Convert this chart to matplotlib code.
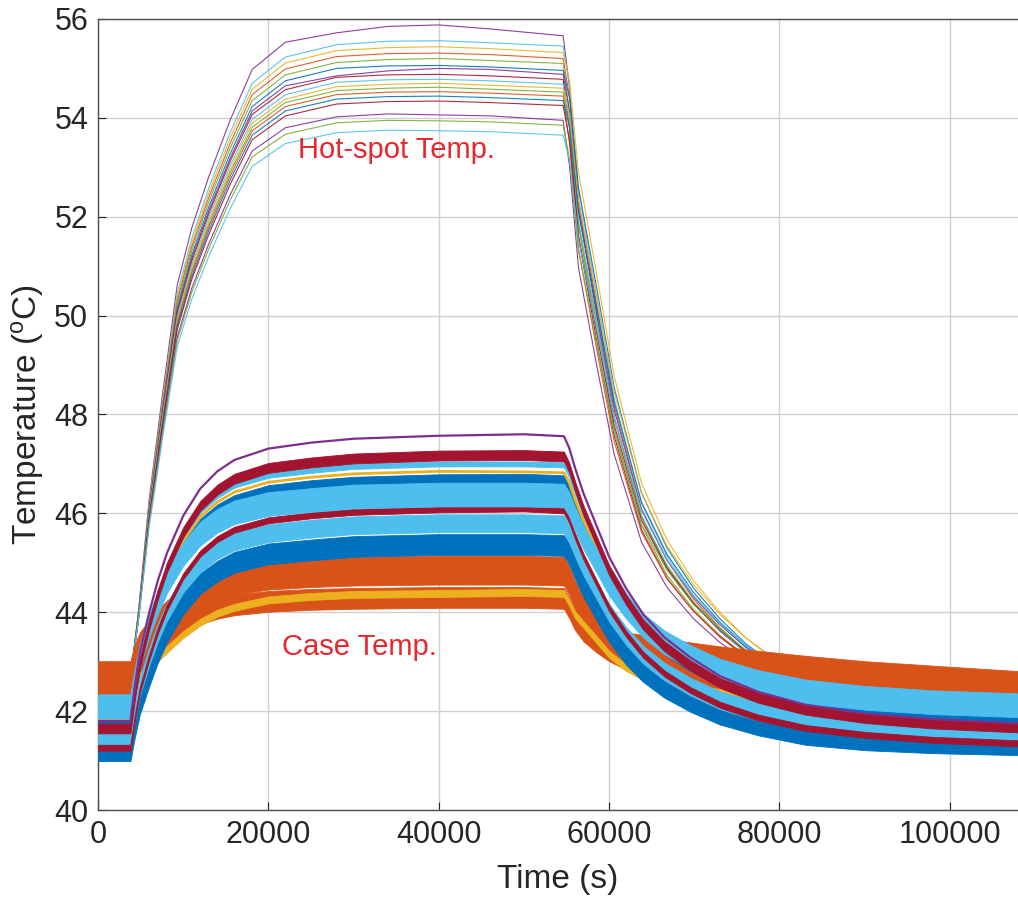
import matplotlib
matplotlib.use("Agg")
import numpy as np
import matplotlib.pyplot as plt

# ---- time bases (s) ----
t_case = [0, 3800, 4300, 4900, 6000, 7000, 8100, 10000, 12000, 14000, 16000, 20000,
          25000, 30000, 40000, 50000, 54700, 55300, 56000, 57000, 58500, 60000, 62000,
          64000, 66500, 69500, 73000, 77500, 83000, 90000, 98000, 108000]
t_hot = [0, 3800, 4100, 4800, 6000, 6800, 7600, 9300, 11000, 13000, 15500, 18100, 22000,
         28000, 34000, 40000, 46000, 54600, 55350, 56400, 58500, 60600, 63800, 66800,
         69900, 73000, 76000, 80000, 86000, 108000]

# ---- case temperatures (band centre, degC) ----
case_orange_a = [42.72, 42.72, 43.05, 43.30, 43.55, 43.76, 43.95, 44.20, 44.40, 44.55, 44.65, 44.75,
                 44.80, 44.83, 44.85, 44.85, 44.83, 44.65, 44.35, 44.05, 43.70, 43.40, 43.30,
                 43.25, 43.18, 43.10, 43.02, 42.93, 42.83, 42.72, 42.63, 42.52]
case_orange_b = [42.49, 42.49, 42.75, 42.95, 43.18, 43.38, 43.55, 43.78, 43.97, 44.08, 44.15, 44.22,
                 44.26, 44.28, 44.30, 44.30, 44.28, 44.10, 43.85, 43.62, 43.40, 43.22, 43.05,
                 42.92, 42.75, 42.58, 42.42, 42.30, 42.20, 42.15, 42.12, 42.10]
case_yellow_1 = [42.15, 42.15, 42.45, 42.70, 42.92, 43.07, 43.25, 43.55, 43.80, 43.98, 44.10, 44.25,
                 44.32, 44.36, 44.38, 44.40, 44.38, 44.20, 43.95, 43.75, 43.45, 43.15, 42.88,
                 42.70, 42.55, 42.45, 42.38, 42.32, 42.27, 42.24, 42.22, 42.20]
case_blue_1 = [41.20, 41.20, 41.66, 42.14, 42.71, 43.18, 43.61, 44.17, 44.58, 44.83, 45.01, 45.18,
               45.26, 45.33, 45.37, 45.37, 45.35, 45.18, 44.89, 44.52, 44.06, 43.61, 43.15,
               42.80, 42.48, 42.20, 41.94, 41.72, 41.53, 41.42, 41.36, 41.32]
case_lightblue_1 = [41.44, 41.44, 41.96, 42.49, 43.10, 43.58, 44.01, 44.58, 44.99, 45.26, 45.43, 45.60,
                    45.69, 45.76, 45.80, 45.80, 45.78, 45.61, 45.31, 44.93, 44.46, 43.99, 43.52,
                    43.14, 42.80, 42.50, 42.22, 41.99, 41.80, 41.67, 41.58, 41.52]
case_darkred_1 = [41.26, 41.26, 41.84, 42.42, 43.09, 43.62, 44.10, 44.73, 45.19, 45.48, 45.67, 45.86,
                  45.96, 46.03, 46.08, 46.10, 46.06, 45.87, 45.54, 45.12, 44.60, 44.08, 43.56,
                  43.14, 42.76, 42.43, 42.13, 41.87, 41.66, 41.52, 41.42, 41.35]
case_blue_2 = [41.78, 41.78, 42.37, 42.95, 43.64, 44.18, 44.67, 45.30, 45.77, 46.06, 46.25, 46.45,
               46.55, 46.62, 46.67, 46.68, 46.65, 46.46, 46.12, 45.68, 45.15, 44.62, 44.09,
               43.66, 43.27, 42.93, 42.62, 42.35, 42.13, 41.99, 41.89, 41.82]
case_lightblue_2 = [42.10, 42.10, 42.61, 43.13, 43.73, 44.20, 44.63, 45.18, 45.59, 45.85, 46.02, 46.19,
                    46.27, 46.34, 46.38, 46.38, 46.36, 46.19, 45.89, 45.51, 45.05, 44.58, 44.11,
                    43.73, 43.39, 43.10, 42.82, 42.59, 42.40, 42.27, 42.18, 42.12]
case_yellow_2 = [41.85, 41.85, 42.45, 43.05, 43.75, 44.30, 44.80, 45.45, 45.93, 46.23, 46.43, 46.63,
                 46.73, 46.80, 46.85, 46.84, 46.82, 46.63, 46.28, 45.85, 45.31, 44.77, 44.24,
                 43.80, 43.41, 43.07, 42.75, 42.49, 42.27, 42.12, 42.02, 41.95]
case_lightblue_3 = [41.90, 41.90, 42.51, 43.12, 43.84, 44.40, 44.91, 45.57, 46.06, 46.36, 46.57, 46.77,
                    46.87, 46.95, 47.00, 47.00, 46.98, 46.78, 46.43, 45.98, 45.44, 44.89, 44.34,
                    43.89, 43.49, 43.15, 42.82, 42.55, 42.32, 42.17, 42.08, 42.00]
case_darkred_2 = [41.65, 41.65, 42.31, 42.97, 43.75, 44.35, 44.91, 45.62, 46.15, 46.48, 46.70, 46.92,
                  47.03, 47.11, 47.17, 47.18, 47.15, 46.93, 46.55, 46.05, 45.45, 44.85, 44.25,
                  43.75, 43.31, 42.93, 42.57, 42.27, 42.03, 41.86, 41.75, 41.67]
case_purple = [41.80, 41.80, 42.49, 43.18, 43.99, 44.63, 45.20, 45.95, 46.50, 46.85, 47.08, 47.31,
               47.43, 47.51, 47.57, 47.60, 47.56, 47.33, 46.92, 46.40, 45.76, 45.12, 44.48,
               43.96, 43.49, 43.09, 42.71, 42.39, 42.13, 41.95, 41.84, 41.75]

# half width of the noisy band around each case trace (degC)
spread_orange_a = 0.29
spread_orange_b = 0.21
spread_yellow_1 = 0.07
spread_blue_1 = 0.21
spread_lightblue_1 = 0.18
spread_darkred_1 = 0.06
spread_blue_2 = 0.12
spread_lightblue_2 = 0.24
spread_lightblue_3 = 0.05
spread_darkred_2 = 0.10

# ---- hot-spot temperatures (degC) ----
hs_purple_1 = [42.85, 42.85, 43.07, 44.10, 46.28, 47.36, 48.45, 50.62, 51.77, 52.81, 53.95, 54.98, 55.53,
               55.72, 55.85, 55.88, 55.80, 55.66, 54.62, 52.26, 50.04, 47.95, 45.93, 44.89, 44.17,
               43.62, 43.19, 42.78, 42.63, 42.60]
hs_lightblue_1 = [42.85, 42.85, 43.07, 44.07, 46.20, 47.26, 48.32, 50.45, 51.56, 52.58, 53.70, 54.70, 55.23,
                  55.48, 55.55, 55.56, 55.52, 55.45, 54.66, 52.55, 50.43, 48.32, 46.20, 45.13, 44.34,
                  43.76, 43.29, 42.81, 42.60, 42.55]
hs_yellow_1 = [42.85, 42.85, 43.06, 44.06, 46.17, 47.21, 48.27, 50.37, 51.47, 52.48, 53.59, 54.58, 55.11,
               55.36, 55.42, 55.44, 55.40, 55.32, 54.75, 52.90, 50.87, 48.77, 46.61, 45.46, 44.64,
               44.00, 43.49, 42.96, 42.68, 42.60]
hs_orange_1 = [42.85, 42.85, 43.06, 44.05, 46.14, 47.17, 48.22, 50.30, 51.39, 52.39, 53.48, 54.47, 54.99,
               55.24, 55.30, 55.31, 55.28, 55.20, 54.43, 52.34, 50.26, 48.18, 46.09, 45.04, 44.27,
               43.69, 43.22, 42.75, 42.55, 42.50]
hs_green_1 = [42.85, 42.85, 43.06, 44.03, 46.11, 47.13, 48.16, 50.22, 51.31, 52.30, 53.38, 54.35, 54.87,
              55.12, 55.18, 55.20, 55.16, 55.10, 54.10, 51.84, 49.70, 47.70, 45.75, 44.75, 44.06,
              43.53, 43.11, 42.73, 42.58, 42.55]
hs_blue_1 = [42.85, 42.85, 43.06, 44.02, 46.07, 47.08, 48.11, 50.15, 51.22, 52.20, 53.27, 54.23, 54.75,
             55.00, 55.05, 55.06, 55.03, 54.96, 54.40, 52.59, 50.60, 48.54, 46.42, 45.30, 44.49,
             43.87, 43.37, 42.85, 42.57, 42.50]
hs_purple_2 = [42.85, 42.85, 43.06, 44.01, 46.04, 47.05, 48.07, 50.09, 51.15, 52.12, 53.18, 54.14, 54.65,
               54.85, 54.95, 55.00, 54.98, 54.88, 54.13, 52.12, 50.10, 48.09, 46.08, 45.06, 44.31,
               43.75, 43.30, 42.85, 42.65, 42.60]
hs_darkred_1 = [42.85, 42.85, 43.05, 44.00, 46.02, 47.02, 48.03, 50.04, 51.10, 52.06, 53.12, 54.07, 54.57,
                54.82, 54.87, 54.88, 54.85, 54.78, 53.80, 51.60, 49.52, 47.56, 45.67, 44.69, 44.02,
                43.50, 43.10, 42.72, 42.57, 42.55]
hs_lightblue_2 = [42.85, 42.85, 43.05, 43.99, 46.00, 46.99, 47.99, 49.98, 51.03, 51.98, 53.03, 53.97, 54.47,
                  54.72, 54.77, 54.78, 54.75, 54.68, 53.94, 51.94, 49.94, 47.94, 45.95, 44.94, 44.19,
                  43.64, 43.19, 42.74, 42.55, 42.50]
hs_yellow_2 = [42.85, 42.85, 43.05, 43.99, 45.97, 46.96, 47.95, 49.92, 50.97, 51.91, 52.95, 53.89, 54.38,
               54.63, 54.68, 54.70, 54.66, 54.60, 54.06, 52.33, 50.42, 48.45, 46.41, 45.34, 44.56,
               43.96, 43.49, 42.98, 42.72, 42.65]
hs_green_2 = [42.85, 42.85, 43.05, 43.98, 45.95, 46.93, 47.91, 49.88, 50.91, 51.85, 52.89, 53.81, 54.31,
              54.55, 54.60, 54.62, 54.58, 54.52, 53.79, 51.83, 49.86, 47.90, 45.94, 44.94, 44.21,
              43.68, 43.23, 42.79, 42.60, 42.55]
hs_orange_2 = [42.85, 42.85, 43.05, 43.97, 45.93, 46.90, 47.88, 49.83, 50.86, 51.79, 52.82, 53.74, 54.23,
               54.47, 54.52, 54.53, 54.50, 54.44, 53.49, 51.36, 49.35, 47.45, 45.62, 44.67, 44.02,
               43.52, 43.13, 42.77, 42.62, 42.60]
hs_blue_2 = [42.85, 42.85, 43.05, 43.96, 45.91, 46.87, 47.84, 49.78, 50.79, 51.72, 52.74, 53.65, 54.14,
             54.38, 54.43, 54.44, 54.41, 54.35, 53.82, 52.10, 50.20, 48.25, 46.23, 45.17, 44.40,
             43.80, 43.33, 42.83, 42.57, 42.50]
hs_darkred_2 = [42.85, 42.85, 43.05, 43.95, 45.88, 46.83, 47.80, 49.72, 50.73, 51.64, 52.65, 53.56, 54.04,
                54.28, 54.33, 54.34, 54.31, 54.25, 53.54, 51.62, 49.70, 47.78, 45.86, 44.89, 44.18,
                43.65, 43.22, 42.78, 42.60, 42.55]
hs_purple_3 = [42.85, 42.85, 43.04, 43.93, 45.82, 46.75, 47.69, 49.57, 50.55, 51.45, 52.44, 53.33, 53.80,
               54.02, 54.08, 54.06, 54.04, 53.95, 53.03, 50.97, 49.03, 47.19, 45.42, 44.50, 43.87,
               43.39, 43.02, 42.66, 42.52, 42.50]
hs_green_3 = [42.85, 42.85, 43.04, 43.92, 45.78, 46.70, 47.63, 49.49, 50.47, 51.35, 52.33, 53.21, 53.67,
              53.90, 53.95, 53.94, 53.92, 53.85, 53.16, 51.32, 49.47, 47.63, 45.78, 44.85, 44.16,
              43.66, 43.24, 42.83, 42.65, 42.60]
hs_lightblue_3 = [42.85, 42.85, 43.04, 43.90, 45.73, 46.63, 47.55, 49.37, 50.33, 51.20, 52.16, 53.02, 53.48,
                  53.70, 53.75, 53.74, 53.72, 53.65, 53.15, 51.54, 49.77, 47.93, 46.05, 45.05, 44.33,
                  43.77, 43.33, 42.86, 42.62, 42.55]

x_ticks = [0, 20000, 40000, 60000, 80000, 100000]
y_ticks = [40, 42, 44, 46, 48, 50, 52, 54, 56]

# MATLAB default line colours
C_BLUE = '#0072BD'
C_ORANGE = '#D95319'
C_YELLOW = '#EDB120'
C_PURPLE = '#7E2F8E'
C_GREEN = '#77AC30'
C_LBLUE = '#4DBEEE'
C_DRED = '#A2142F'

plt.rcParams['font.family'] = ['Liberation Sans', 'DejaVu Sans']
plt.rcParams['mathtext.default'] = 'regular'

fig = plt.figure(figsize=(10.18, 9.0), dpi=100)
ax = fig.add_axes([0.0963, 0.1, 0.9037, 0.8789])

# hot-spot traces (thin lines, underneath the case bands)
hot_lines = [
    (hs_purple_1, C_PURPLE), (hs_lightblue_1, C_LBLUE), (hs_yellow_1, C_YELLOW),
    (hs_orange_1, C_ORANGE), (hs_green_1, C_GREEN), (hs_blue_1, C_BLUE),
    (hs_purple_2, C_PURPLE), (hs_darkred_1, C_DRED), (hs_lightblue_2, C_LBLUE),
    (hs_yellow_2, C_YELLOW), (hs_green_2, C_GREEN), (hs_orange_2, C_ORANGE),
    (hs_blue_2, C_BLUE), (hs_darkred_2, C_DRED), (hs_purple_3, C_PURPLE),
    (hs_green_3, C_GREEN), (hs_lightblue_3, C_LBLUE),
]
for vals, col in hot_lines:
    ax.plot(t_hot, vals, color=col, lw=0.8, alpha=0.9, zorder=2)

# case traces: noisy bands drawn as filled strips, in drawing order
case_bands = [
    (case_orange_a, spread_orange_a, C_ORANGE),
    (case_orange_b, spread_orange_b, C_ORANGE),
    (case_yellow_1, spread_yellow_1, C_YELLOW),
    (case_blue_1, spread_blue_1, C_BLUE),
    (case_lightblue_1, spread_lightblue_1, C_LBLUE),
    (case_darkred_1, spread_darkred_1, C_DRED),
    (case_blue_2, spread_blue_2, C_BLUE),
]
z = 3
for vals, hw, col in case_bands:
    v = np.array(vals)
    ax.fill_between(t_case, v - hw, v + hw, color=col, lw=0.6, edgecolor=col, zorder=z)
    z += 1

ax.plot(t_case, case_yellow_2, color=C_YELLOW, lw=2.0, zorder=z)
z += 1
for vals, hw, col in [(case_lightblue_2, spread_lightblue_2, C_LBLUE),
                      (case_lightblue_3, spread_lightblue_3, C_LBLUE),
                      (case_darkred_2, spread_darkred_2, C_DRED)]:
    v = np.array(vals)
    ax.fill_between(t_case, v - hw, v + hw, color=col, lw=0.6, edgecolor=col, zorder=z)
    z += 1
ax.plot(t_case, case_purple, color=C_PURPLE, lw=1.6, zorder=z)

# annotations
ax.text(23490, 53.19, 'Hot-spot Temp.', color='#e8262d', fontsize=21, va='baseline', zorder=20)
ax.text(21600, 43.14, 'Case Temp.', color='#e8262d', fontsize=21, va='baseline', zorder=20)

# axes styling (MATLAB look)
ax.set_xlim(0, 108000)
ax.set_ylim(40, 56)
ax.set_xticks(x_ticks)
ax.set_xticklabels([str(v) for v in x_ticks])
ax.set_yticks(y_ticks)
ax.set_axisbelow(True)
ax.grid(True, color='#d0d0d0', lw=1.0)
ax.tick_params(direction='in', length=6, width=0.8, labelsize=22, colors='#262626', pad=7)
for side in ('left', 'bottom', 'top'):
    ax.spines[side].set_color('#4d4d4d')
    ax.spines[side].set_linewidth(1.0)
ax.spines['right'].set_visible(False)

ax.set_xlabel('Time (s)', fontsize=24, color='#262626', labelpad=10)
ax.set_ylabel('Temperature ($^{o}$C)', fontsize=24, color='#262626', labelpad=6)

fig.savefig('out.png', dpi=100)
